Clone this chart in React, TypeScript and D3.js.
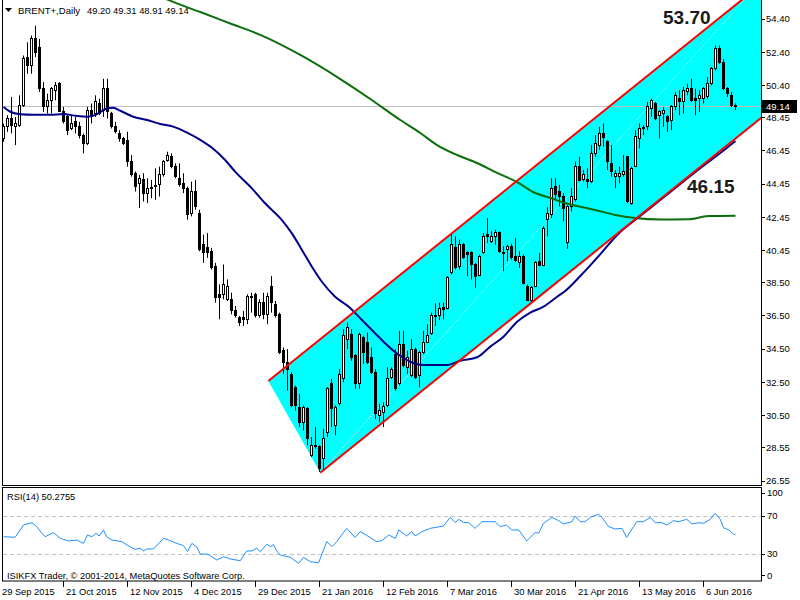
import React from 'react';
import * as d3 from 'd3';

// ---- OHLC data (daily bars, 29 Sep 2015 .. 15 Jun 2016) ----
const opens = [
  47.2, 47.9, 48.4, 47.9, 48.0, 49.2, 52.1, 51.6, 53.2, 52.7,
  50.2, 49.1, 49.5, 50.1, 50.5, 48.8, 48.5, 47.8, 48.2, 47.9,
  47.4, 46.9, 48.9, 48.7, 49.3, 48.9, 50.2, 48.7, 47.9, 47.5,
  47.2, 47.1, 45.8, 45.1, 44.5, 44.7, 43.9, 44.2, 44.3, 44.4,
  45.0, 45.9, 46.1, 45.5, 44.8, 44.5, 44.2, 42.7, 44.0, 42.7,
  40.8, 40.6, 40.4, 39.5, 37.8, 37.8, 37.5, 37.5, 36.8, 36.4,
  36.4, 36.3, 37.7, 37.8, 36.5, 37.3, 36.6, 38.3, 37.2, 36.6,
  34.4, 33.7, 33.0, 32.2, 31.0, 30.1, 30.9, 28.1, 28.7, 28.6,
  27.9, 29.5, 32.4, 29.9, 31.2, 32.7, 35.1, 35.4, 34.1, 32.4,
  35.2, 34.9, 34.0, 33.1, 30.5, 30.7, 31.1, 32.8, 34.2, 32.4,
  34.8, 33.4, 32.9, 34.5, 32.9, 34.3, 34.9, 35.45, 36.55, 36.55,
  37.0, 36.95, 39.1, 40.6, 39.5, 40.8, 40.3, 40.3, 39.6, 38.95,
  40.3, 41.4, 41.0, 41.3, 41.5, 40.35, 40.5, 40.7, 40.1, 39.7,
  40.1, 38.3, 37.45, 38.25, 39.8, 39.55, 42.3, 42.6, 44.3, 44.0,
  43.7, 40.9, 43.1, 43.5, 45.5, 44.7, 44.75, 44.6, 46.3, 46.8,
  47.5, 47.0, 45.7, 44.9, 44.9, 45.05, 46.1, 43.3, 45.5, 47.2,
  47.8, 47.9, 49.0, 49.3, 48.6, 48.7, 48.55, 48.3, 49.1, 49.6,
  49.4, 50.0, 50.2, 49.6, 49.6, 49.6, 49.7, 50.5, 51.4, 52.6,
  51.8, 50.2, 49.8, 49.2,
];
const highs = [
  48.1, 48.6, 49.7, 48.5, 49.8, 52.2, 53.0, 53.4, 54.0, 53.2,
  50.6, 49.9, 50.3, 50.6, 50.6, 49.1, 48.6, 48.6, 48.5, 48.2,
  47.5, 49.1, 49.3, 49.8, 49.6, 50.8, 50.8, 48.8, 48.2, 47.7,
  47.3, 47.6, 46.2, 45.2, 45.0, 45.1, 44.8, 44.7, 45.4, 45.5,
  45.9, 46.4, 46.3, 45.7, 45.7, 45.1, 44.3, 44.6, 44.7, 42.9,
  41.4, 41.5, 40.6, 39.7, 38.4, 39.6, 38.7, 37.9, 37.1, 36.5,
  36.8, 37.8, 37.9, 37.9, 37.5, 37.9, 37.9, 38.9, 37.4, 36.7,
  34.6, 34.5, 33.1, 32.3, 31.8, 31.1, 31.0, 29.2, 29.8, 28.7,
  29.7, 32.2, 32.7, 31.1, 33.3, 35.7, 36.1, 35.7, 34.2, 35.5,
  35.3, 35.5, 34.6, 33.3, 31.2, 31.3, 33.4, 33.4, 34.5, 35.6,
  35.6, 34.4, 35.1, 34.6, 34.4, 35.6, 36.0, 36.7, 37.25, 37.3,
  37.3, 38.9, 41.4, 41.3, 41.1, 40.9, 40.4, 40.4, 39.7, 40.2,
  41.5, 42.4, 41.6, 41.7, 41.6, 40.7, 40.8, 40.85, 41.2, 40.4,
  40.2, 38.4, 38.3, 39.8, 40.3, 41.9, 43.05, 44.8, 44.8, 44.4,
  43.9, 43.3, 44.2, 45.8, 46.1, 45.3, 45.4, 46.8, 47.4, 47.9,
  48.1, 47.1, 46.8, 45.3, 45.5, 46.2, 46.15, 45.5, 47.7, 48.1,
  48.0, 49.4, 49.6, 49.4, 48.9, 49.1, 48.6, 49.2, 50.0, 50.1,
  50.3, 50.5, 50.8, 50.2, 50.1, 50.3, 50.9, 51.5, 52.8, 52.8,
  52.0, 50.3, 50.0, 49.31,
];
const lows = [
  47.0, 47.6, 47.5, 46.8, 47.9, 49.1, 51.1, 51.1, 52.1, 50.0,
  48.8, 48.7, 48.7, 49.5, 48.8, 48.1, 47.4, 47.7, 47.5, 47.2,
  46.3, 46.8, 48.1, 48.5, 48.6, 48.5, 48.4, 47.8, 47.5, 47.0,
  46.8, 45.5, 44.9, 44.0, 43.0, 43.4, 43.3, 43.6, 43.5, 43.7,
  44.9, 45.8, 45.4, 44.8, 44.3, 43.9, 42.3, 42.5, 42.9, 40.4,
  39.7, 40.0, 39.3, 37.3, 36.3, 37.5, 37.4, 36.6, 36.4, 35.9,
  35.9, 36.0, 36.7, 36.4, 36.4, 36.3, 36.0, 36.7, 36.4, 34.2,
  33.0, 32.0, 31.0, 30.8, 29.8, 29.6, 28.7, 28.0, 28.5, 27.1,
  27.2, 29.2, 29.8, 29.3, 31.1, 32.5, 34.5, 33.8, 32.1, 32.1,
  33.6, 33.6, 33.0, 30.3, 30.1, 29.8, 31.0, 32.7, 32.0, 32.3,
  33.4, 33.0, 32.8, 32.7, 32.2, 34.2, 34.9, 35.35, 35.9, 36.25,
  36.3, 36.9, 39.0, 39.3, 39.3, 39.95, 38.9, 38.7, 38.2, 38.9,
  40.25, 40.9, 40.9, 40.8, 40.3, 39.2, 39.8, 39.9, 39.75, 39.4,
  38.4, 37.4, 37.35, 38.25, 39.5, 39.5, 41.3, 42.4, 43.5, 43.1,
  42.2, 40.55, 42.8, 43.4, 44.6, 44.6, 44.2, 44.5, 46.1, 46.5,
  46.7, 45.3, 44.9, 44.2, 44.5, 44.9, 43.3, 43.2, 45.5, 46.6,
  47.4, 47.7, 48.5, 48.3, 47.2, 47.9, 47.6, 47.7, 48.9, 48.6,
  48.7, 49.8, 49.4, 48.6, 48.8, 49.3, 49.6, 50.4, 51.3, 51.7,
  50.1, 49.7, 49.1, 48.91,
];
const closes = [
  47.9, 48.4, 47.95, 48.1, 49.2, 52.0, 51.6, 53.2, 52.4, 50.2,
  49.1, 49.5, 50.2, 50.4, 48.8, 48.2, 47.7, 48.1, 47.9, 47.4,
  46.9, 48.9, 48.5, 49.4, 48.7, 50.2, 48.8, 47.9, 47.6, 47.2,
  46.9, 45.8, 45.0, 44.3, 44.8, 43.9, 44.2, 44.25, 44.35, 45.0,
  45.8, 46.2, 45.5, 44.9, 44.4, 44.2, 42.6, 44.0, 43.1, 40.5,
  40.3, 40.3, 39.4, 37.6, 37.6, 38.4, 38.3, 36.8, 36.5, 36.1,
  36.3, 37.7, 37.6, 36.5, 37.3, 36.6, 37.7, 37.3, 36.5, 34.3,
  33.7, 33.3, 31.1, 31.1, 30.1, 31.0, 29.1, 28.7, 28.6, 27.3,
  29.1, 32.1, 30.9, 31.0, 33.0, 35.3, 35.8, 34.0, 32.4, 35.4,
  34.3, 33.7, 33.1, 30.6, 30.8, 31.05, 32.7, 33.3, 32.1, 34.8,
  33.5, 34.0, 34.5, 32.8, 34.3, 34.9, 35.35, 36.55, 36.45, 36.95,
  36.9, 38.8, 40.8, 39.45, 40.8, 40.0, 40.2, 39.6, 38.9, 40.1,
  41.3, 41.3, 41.3, 41.5, 40.4, 40.25, 40.7, 40.0, 39.85, 40.1,
  38.45, 37.45, 38.2, 39.7, 39.55, 41.8, 42.7, 44.2, 43.8, 43.7,
  43.0, 43.1, 43.7, 45.5, 44.65, 45.05, 44.6, 46.3, 46.9, 47.5,
  47.25, 45.8, 45.2, 45.1, 45.1, 45.2, 43.4, 45.4, 47.3, 47.8,
  47.85, 49.1, 49.5, 48.4, 48.8, 48.9, 48.2, 49.1, 49.8, 49.4,
  50.1, 50.2, 49.5, 49.5, 49.8, 50.2, 50.5, 51.4, 52.6, 51.8,
  50.2, 49.9, 49.2, 49.14,
];

// ---- axis labels ----
const dateLabels = ['29 Sep 2015', '21 Oct 2015', '12 Nov 2015', '4 Dec 2015', '29 Dec 2015', '21 Jan 2016',
  '12 Feb 2016', '7 Mar 2016', '30 Mar 2016', '21 Apr 2016', '13 May 2016', '6 Jun 2016'];
const dateLabelBars = [0, 16, 32, 48, 64, 80, 96, 112, 128, 144, 160, 176];
const priceTicks = [54.40, 52.40, 50.40, 48.45, 46.45, 44.45, 42.45, 40.45, 38.50, 36.50, 34.50, 32.50, 30.50, 28.55, 26.55];
const rsiLevels = [70, 30];
const rsiTickLabels = ['100', '70', '30', '0'];
const rsiTickValues = [100, 70, 30, 0];
const rsiTitle = 'RSI(14) 50.2755';

// ---- moving averages ----
const maBlueIdx = [0, 1.7, 4.2, 7.4, 11.7, 14.9, 18.4, 20.9, 23.4, 25.9, 27.4, 29.2, 32.4, 35.9, 39.2, 42.4, 45.9,
  49.2, 52.2, 55.4, 57.9, 62.1, 65.4, 69.6, 72.1, 74.6, 77.1, 79.6, 82.9, 86.3, 89.6, 92.9, 95.0, 98.3, 101.7,
  105.0, 110.9, 114.2, 118.4, 121.7, 125.0, 128.4, 131.7, 135.0, 138.4, 140.5, 144.2, 147.9, 154.2, 158.2, 164.2,
  169.2, 175.4, 179.2, 183];
const maBlueVal = [49.1, 48.81, 48.66, 48.63, 48.63, 48.67, 48.55, 48.51, 48.67, 49.02, 49.05, 48.87, 48.51, 48.31,
  48.07, 47.91, 47.55, 47.11, 46.62, 45.90, 45.20, 44.19, 43.29, 42.28, 41.48, 40.48, 39.47, 38.56, 37.66, 37.06,
  36.26, 35.45, 34.95, 34.25, 33.74, 33.54, 33.54, 33.80, 34.01, 34.65, 35.25, 36.15, 36.70, 37.06, 37.66, 38.02,
  38.91, 39.87, 41.56, 42.34, 43.49, 44.45, 45.63, 46.32, 47.05];
const maGreenIdx = [36.7, 42.4, 49.2, 56.7, 64.2, 74.2, 84.2, 91.7, 99.2, 104.2, 108.4, 113.4, 118.4, 123.4, 128.4,
  132.4, 136.7, 140.4, 147.9, 152.9, 157.9, 164.2, 171.2, 176.2, 183];
const maGreenVal = [56.03, 55.43, 54.82, 54.13, 53.44, 52.23, 50.78, 49.58, 48.31, 47.53, 46.80, 46.20, 45.72, 45.12,
  44.57, 43.97, 43.61, 43.31, 42.89, 42.59, 42.40, 42.31, 42.33, 42.52, 42.54];

// ---- RSI(14) ----
const rsiIdx = [0, 2.9, 5, 7.1, 8.3, 9.6, 10.4, 12.5, 14.2, 16.3, 18.3, 20, 21, 22.1, 23.1, 23.9, 25, 25.8, 27.1, 29.6,
  31.3, 32.9, 34.2, 35, 35.8, 37.5, 40, 41.3, 43.3, 45, 46, 47.1, 48.3, 49.2, 50.8, 51.5, 53.3, 55, 56.7, 59.2, 60.8,
  62.1, 63.3, 64.2, 65.8, 66.8, 67.5, 68.3, 69.2, 71.7, 73.8, 75, 76.7, 78.8, 80.8, 82.1, 83.3, 85.8, 87.9, 89.2,
  90.4, 93.3, 94.6, 96.3, 98, 98.8, 100.8, 102.1, 102.9, 104.6, 106.7, 110, 111.7, 112.9, 113.8, 115, 116.3, 117.9,
  119.6, 122.9, 124.2, 125.7, 127.1, 128.8, 130.8, 132.9, 133.8, 135, 137.1, 138.8, 140, 142.1, 142.9, 144.2, 145.4,
  146.7, 148.8, 149.6, 151.3, 152.9, 154.6, 155.8, 157.5, 158.3, 160, 161.7, 162.9, 164.6, 165.8, 167.5, 168.8,
  170.8, 172.1, 173.8, 175, 176.7, 177.9, 179.2, 180, 181.3, 182.5, 183];
const rsiVal = [48.2, 47.6, 60.5, 63, 58.8, 51.8, 48.2, 52.5, 46.5, 43.7, 44.7, 41.2, 50, 48.2, 51.8, 48.9, 55.3, 48.2,
  44.7, 43, 38.4, 34.9, 36, 33.2, 35.3, 35.3, 46.5, 44.7, 41.2, 38.8, 32.5, 41.2, 37.7, 30, 30, 28.9, 23.7, 27.2,
  24.7, 23, 33.2, 33.2, 36, 32.5, 40.2, 37.7, 40, 33.2, 28.9, 26.5, 20.2, 26.5, 21.9, 20.9, 43, 37.7, 43, 57, 47.5,
  53.5, 50.7, 43, 44, 50, 46.5, 55.3, 49, 53.5, 49, 53.5, 57, 59.5, 68.6, 63, 66.5, 63.3, 63, 57, 64, 64, 58.8, 60.5,
  55.3, 55.3, 43.7, 52.5, 52, 62.3, 68.6, 65.1, 61.6, 64, 70, 64, 64, 68.6, 71.8, 68.6, 58.8, 56.3, 57, 47.5, 58.8,
  64, 64, 68.6, 63, 63, 60.5, 65.1, 64, 66.5, 61.6, 63, 62.3, 66.5, 72.8, 66.5, 57.7, 55.3, 51, 50.28];

// ---- channel (equidistant channel object) ----
const chanIdx = [66.2, 79.2, 186.7];   // upper start, lower start, lower second point
const chanPrice = [32.58, 27.05, 47.91];
const midIdx = [79.2, 185.4];
const midPrice = [27.05, 55.6];
const chanLabels = ['53.70', '46.15'];

const FONT = '"Liberation Sans", Arial, sans-serif';

export default function App() {
  const n = closes.length;
  const x = d3.scaleLinear().domain([0, n - 1]).range([3.5, 3.5 + 4 * (n - 1)]);
  const y = d3.scaleLinear().domain([26.55, 54.40]).range([481, 19]);
  const ry = d3.scaleLinear().domain([0, 100]).range([582.5, 487.5]);
  const px = (v: number) => Math.round(v - 0.5) + 0.5;

  const slope = (chanPrice[2] - chanPrice[1]) / (chanIdx[2] - chanIdx[1]);
  const upper = (i: number) => chanPrice[0] + slope * (i - chanIdx[0]);
  const lower = (i: number) => chanPrice[1] + slope * (i - chanIdx[1]);
  const iEnd = x.invert(765);

  const poly = [
    [x(chanIdx[0]), y(chanPrice[0])],
    [x(chanIdx[1]), y(chanPrice[1])],
    [x(iEnd), y(lower(iEnd))],
    [x(iEnd), y(upper(iEnd))],
  ].map((p) => p.join(',')).join(' ');

  const bluePath = d3.line<number>().x((d, k) => x(maBlueIdx[k])).y((d) => y(d)).curve(d3.curveMonotoneX)(maBlueVal);
  const greenPath = d3.line<number>().x((d, k) => x(maGreenIdx[k])).y((d) => y(d)).curve(d3.curveMonotoneX)(maGreenVal);
  const rsiPath = d3.line<number>().x((d, k) => x(rsiIdx[k])).y((d) => ry(d))(rsiVal);

  const lastClose = closes[n - 1];

  return (
    <svg width={800} height={600} style={{ position: 'absolute', left: 0, top: 0, background: '#fff' }}
      fontFamily={FONT}>
      <defs>
        <clipPath id="plot">
          <rect x={3} y={0} width={758} height={485} />
        </clipPath>
        <clipPath id="rsi">
          <rect x={3} y={488} width={758} height={93} />
        </clipPath>
      </defs>
      <rect x={0} y={0} width={800} height={600} fill="#fff" />

      <g clipPath="url(#plot)">
        {/* channel fill */}
        <polygon points={poly} fill="#00ffff" />
        {/* mid dotted line */}
        <line x1={x(midIdx[0])} y1={y(midPrice[0])} x2={x(midIdx[1])} y2={y(midPrice[1])}
          stroke="#fff" strokeWidth={1} strokeDasharray="1,2" />
        {/* current price line */}
        <line x1={2} x2={761} y1={px(y(lastClose))} y2={px(y(lastClose))} stroke="#c0c0c0" strokeWidth={1} />

        {/* candles */}
        {closes.map((c, i) => {
          const o = opens[i];
          const cx = px(x(i));
          const top = px(y(Math.max(o, c)));
          const bot = px(y(Math.min(o, c)));
          const bull = c >= o;
          return (
            <g key={i}>
              <line x1={cx} x2={cx} y1={y(highs[i])} y2={y(lows[i])} stroke="#000" strokeWidth={1} />
              <rect x={cx - 1} y={top} width={2} height={Math.max(0, bot - top)}
                fill={bull ? '#fff' : '#000'} stroke="#000" strokeWidth={1} />
            </g>
          );
        })}

        {/* moving averages */}
        <path d={greenPath || ''} fill="none" stroke="#0a6e0a" strokeWidth={2} />
        <path d={bluePath || ''} fill="none" stroke="#00008b" strokeWidth={2} />

        {/* channel lines */}
        <line x1={x(chanIdx[0])} y1={y(chanPrice[0])} x2={x(iEnd)} y2={y(upper(iEnd))} stroke="#ff0000" strokeWidth={2} />
        <line x1={x(chanIdx[1])} y1={y(chanPrice[1])} x2={x(iEnd)} y2={y(lower(iEnd))} stroke="#ff0000" strokeWidth={2} />
      </g>

      {/* channel labels */}
      <text x={663} y={24} fontSize={19} fontWeight="bold" fill="#1a1a1a">{chanLabels[0]}</text>
      <text x={687} y={193} fontSize={19} fontWeight="bold" fill="#1a1a1a">{chanLabels[1]}</text>

      {/* header */}
      <polygon points="5,8 12,8 8.5,12" fill="#000" />
      <text x={18} y={14} fontSize={9.6} fill="#000">BRENT+,Daily</text>
      <text x={87} y={14} fontSize={9.4} fill="#000">{[opens[n - 1], highs[n - 1], lows[n - 1], closes[n - 1]].map((v) => v.toFixed(2)).join(' ')}</text>

      {/* frames */}
      <line x1={2.5} x2={2.5} y1={0} y2={485} stroke="#000" />
      <line x1={761.5} x2={761.5} y1={0} y2={485.5} stroke="#000" />
      <line x1={2} x2={762} y1={485.5} y2={485.5} stroke="#000" />
      <rect x={2.5} y={487.5} width={759} height={93.5} fill="none" stroke="#000" />

      {/* price axis */}
      {priceTicks.map((t) => (
        <g key={t}>
          <line x1={761} x2={765} y1={px(y(t))} y2={px(y(t))} stroke="#000" />
          <text x={766} y={y(t)} dy="0.35em" fontSize={9.5} fill="#000">{t.toFixed(2)}</text>
        </g>
      ))}
      <rect x={762} y={px(y(lastClose)) - 6.5} width={35} height={13} fill="#000" />
      <text x={766} y={y(lastClose)} dy="0.36em" fontSize={9.5} fill="#fff">{lastClose.toFixed(2)}</text>

      {/* RSI panel */}
      {rsiLevels.map((l) => (
        <line key={l} x1={3} x2={761} y1={px(ry(l))} y2={px(ry(l))} stroke="#c0c0c0" strokeDasharray="4,3" />
      ))}
      <g clipPath="url(#rsi)">
        <path d={rsiPath || ''} fill="none" stroke="#1e90ff" strokeWidth={1} />
      </g>
      <text x={7} y={500} fontSize={9.3} fill="#000">{rsiTitle}</text>
      <text x={7} y={579} fontSize={9.3} fill="#000">ISIKFX Trader, © 2001-2014, MetaQuotes Software Corp.</text>
      {rsiTickValues.map((v, k) => {
        const yy = v === 100 ? ry(v) + 5.5 : v === 0 ? ry(v) - 7 : ry(v);
        return (
          <g key={v}>
            <line x1={761} x2={765} y1={px(yy)} y2={px(yy)} stroke="#000" />
            <text x={767} y={yy} dy="0.35em" fontSize={9.5} fill="#000">{rsiTickLabels[k]}</text>
          </g>
        );
      })}

      {/* time axis */}
      {dateLabelBars.map((b, k) => (
        <g key={b}>
          <line x1={px(x(b) - 4)} x2={px(x(b) - 4)} y1={581} y2={587} stroke="#000" />
          <text x={x(b) - 1.5} y={595} fontSize={9.3} fill="#000">{dateLabels[k]}</text>
        </g>
      ))}
    </svg>
  );
}
